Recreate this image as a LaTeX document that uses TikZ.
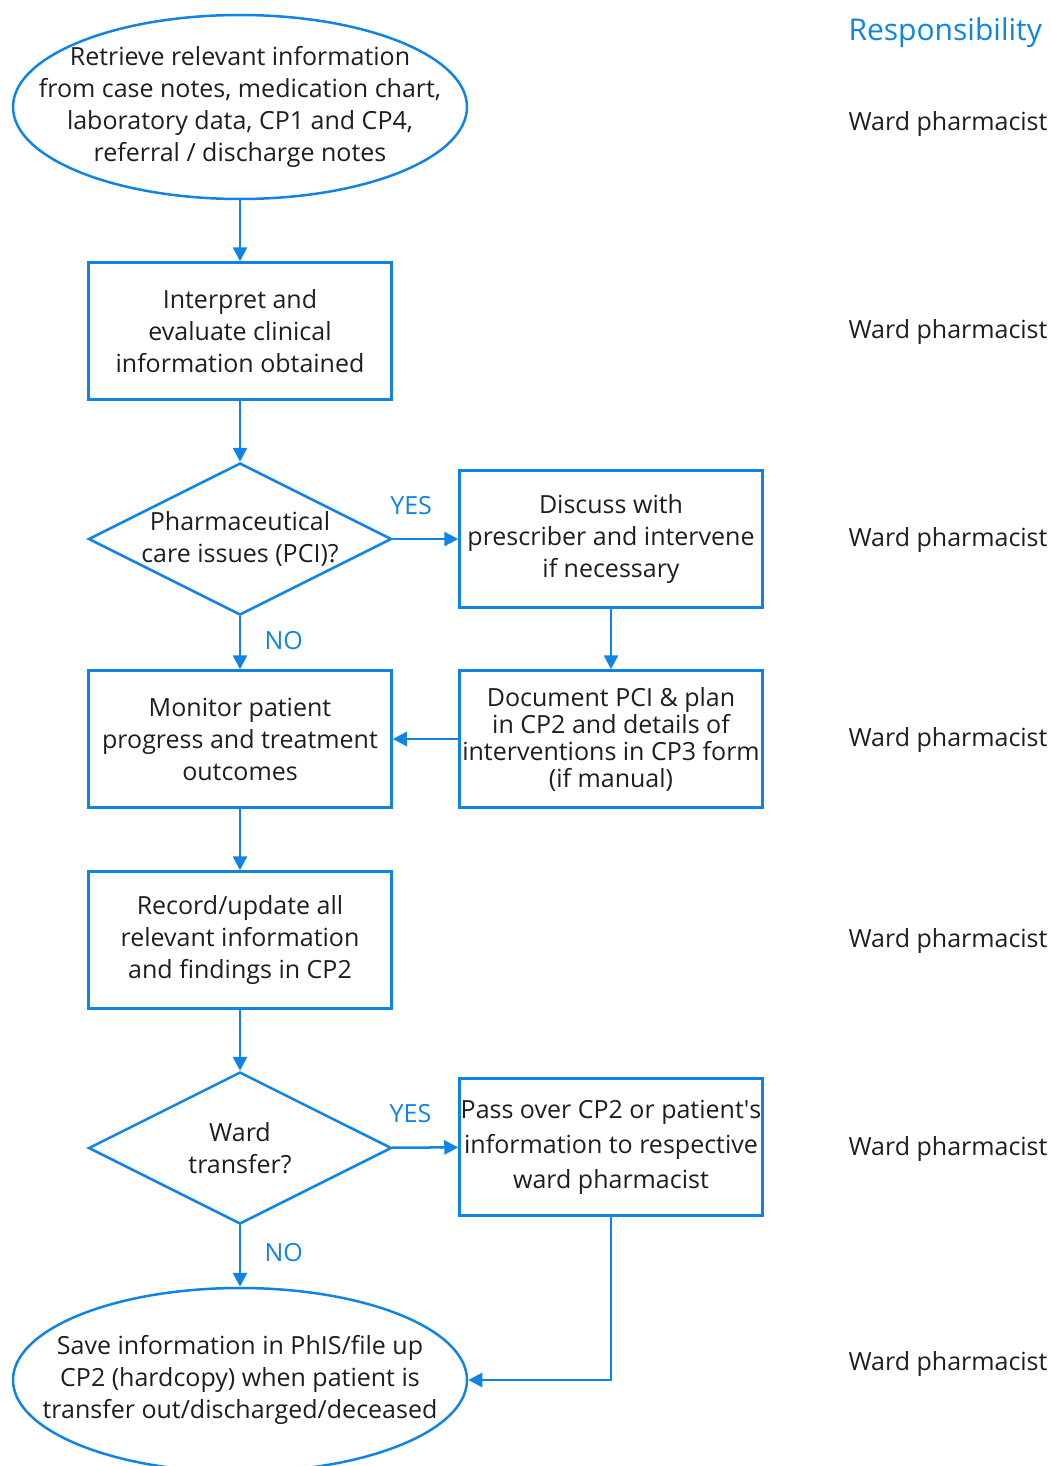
\documentclass[tikz,border=0pt]{standalone}
\usepackage{fontspec}
\setmainfont{Open Sans}
\usetikzlibrary{shapes.geometric,arrows.meta}
\definecolor{flowblue}{RGB}{16,132,228}
\definecolor{txtgray}{RGB}{30,30,30}
\tikzset{
  every node/.style={text=txtgray,font=\fontsize{25}{32}\selectfont},
  proc/.style={draw=flowblue,line width=2.5pt,rectangle,minimum width=303pt,minimum height=137pt,align=center,inner sep=0pt},
  term/.style={draw=flowblue,line width=2.5pt,ellipse,minimum width=454pt,minimum height=184pt,align=center,inner sep=-50pt},
  decide/.style={draw=flowblue,line width=2.5pt,diamond,minimum width=303pt,minimum height=152pt,align=center,inner sep=-30pt},
  flow/.style={draw=flowblue,line width=2.5pt,-{Triangle[length=14pt,width=14pt]}},
  answer/.style={text=flowblue},
  resp/.style={anchor=west}
}
\begin{document}
\begin{tikzpicture}[x=1pt,y=-1pt]
\useasboundingbox (0,0) rectangle (1051,1466);
\node[term] (retrieve) at (240,107) {Retrieve relevant information\\from case notes, medication chart,\\laboratory data, CP1 and CP4,\\referral / discharge notes};
\node[proc] (interpret) at (240,331) {Interpret and\\evaluate clinical\\information obtained};
\node[decide] (pci) at (240,539) {Pharmaceutical\\care issues (PCI)?};
\node[proc] (discuss) at (611,539) {Discuss with\\prescriber and intervene\\if necessary};
\node[proc] (monitor) at (240,739) {Monitor patient\\progress and treatment\\outcomes};
\node[proc,font=\fontsize{25}{27}\selectfont] (document) at (611,739) {Document PCI \& plan\\in CP2 and details of\\interventions in CP3 form\\(if manual)};
\node[proc] (record) at (240,940) {Record/update all\\relevant information\\and findings in CP2};
\node[decide] (transfer) at (240,1148) {Ward\\transfer?};
\node[proc,font=\fontsize{25}{35}\selectfont] (pass) at (611,1147) {Pass over CP2 or patient\textquotesingle s\\information to respective\\ward pharmacist};
\node[term] (save) at (240,1380) {Save information in PhIS/file up\\CP2 (hardcopy) when patient is\\transfer out/discharged/deceased};

\draw[flow] (retrieve) -- (interpret);
\draw[flow] (interpret) -- (pci);
\draw[flow] (pci) -- node[answer,above=20pt,pos=0.28] (yes1) {YES} (discuss);
\draw[flow] (pci) -- node[answer,right=20pt,pos=0.45] (no1) {NO} (monitor);
\draw[flow] (discuss) -- (document);
\draw[flow] (document) -- (monitor);
\draw[flow] (monitor) -- (record);
\draw[flow] (record) -- (transfer);
\draw[flow] (transfer) -- node[answer,above=20pt,pos=0.28] (yes2) {YES} (pass);
\draw[flow] (transfer) -- node[answer,right=20pt,pos=0.45] (no2) {NO} (save);
\draw[flow] (pass.south) |- (save.east);

\node[resp,text=flowblue,font=\fontsize{30}{36}\selectfont] (resphead) at (845,33) {Responsibility};
\node[resp] (r1) at (845,124) {Ward pharmacist};
\node[resp] (r2) at (845,332) {Ward pharmacist};
\node[resp] (r3) at (845,540) {Ward pharmacist};
\node[resp] (r4) at (845,740) {Ward pharmacist};
\node[resp] (r5) at (845,941) {Ward pharmacist};
\node[resp] (r6) at (845,1149) {Ward pharmacist};
\node[resp] (r7) at (845,1364) {Ward pharmacist};
\end{tikzpicture}
\end{document}
